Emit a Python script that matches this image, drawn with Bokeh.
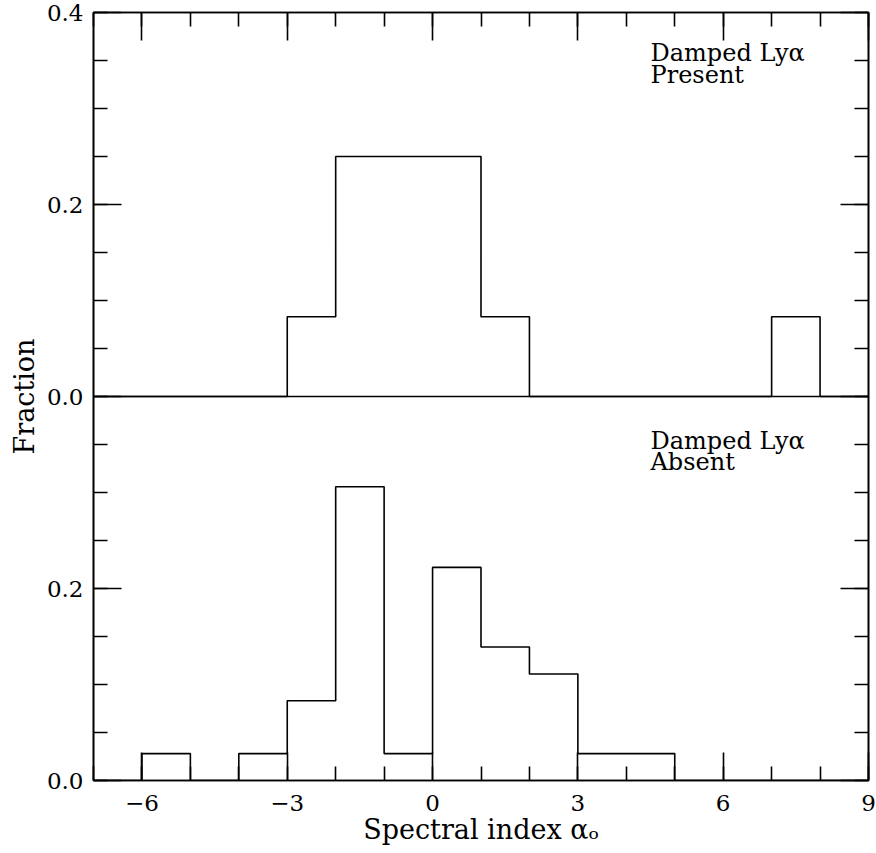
from bokeh.plotting import figure
from bokeh.models import Range1d, LinearAxis, FixedTicker, Label, Span, CustomJSTickFormatter
from bokeh.embed import file_html
from bokeh.resources import INLINE

# Histogram bins (left edges, width 1) and fractions
bin_left = list(range(-7, 9))  # -7 ... 8
bin_right_edge = 9
present = [0, 0, 0, 0, 0.083, 0.25, 0.25, 0.25, 0.083, 0, 0, 0, 0, 0, 0.083, 0]
absent = [0, 0.028, 0, 0.028, 0.083, 0.306, 0.028, 0.222, 0.139, 0.111, 0.028, 0.028, 0, 0, 0, 0]

x_major = [-6, -3, 0, 3, 6, 9]
x_minor = list(range(-7, 10))
y_major = [0, 0.2, 0.4, 0.6, 0.8]
y_labels = {0: "0.0", 0.2: "0.2", 0.4: "0.0", 0.6: "0.2", 0.8: "0.4"}
y_minor = [round(0.05 * k, 2) for k in range(0, 17)]

FONT = "DejaVu Serif"

p = figure(width=876, height=853, output_backend="svg", toolbar_location=None,
           x_range=Range1d(-7, 9), y_range=Range1d(0, 0.8),
           min_border_left=93, min_border_right=8, min_border_top=12, min_border_bottom=73,
           x_axis_label="Spectral index \u03b1\u2092", y_axis_label="Fraction")
p.extra_y_ranges = {"top": Range1d(-0.4, 0.4)}
p.xgrid.visible = False
p.ygrid.visible = False
p.outline_line_color = "black"
p.outline_line_width = 1.6
p.background_fill_color = "white"
p.border_fill_color = "white"

def style_axis(ax, show_labels):
    ax.major_tick_in = 28
    ax.major_tick_out = 0
    ax.minor_tick_in = 14
    ax.minor_tick_out = 0
    ax.axis_line_width = 1.6
    ax.major_tick_line_width = 1.6
    ax.minor_tick_line_width = 1.6
    ax.axis_line_color = "black"
    ax.major_tick_line_color = "black"
    ax.minor_tick_line_color = "black"
    ax.major_label_text_font = FONT
    ax.major_label_text_color = "black"
    ax.axis_label_text_font = FONT
    ax.axis_label_text_font_style = "normal"
    ax.axis_label_text_color = "black"
    if not show_labels:
        ax.formatter = CustomJSTickFormatter(code="return ''")
        ax.major_label_standoff = 0

xt = FixedTicker(ticks=x_major, minor_ticks=x_minor)
yt = FixedTicker(ticks=y_major, minor_ticks=y_minor)

xa = p.xaxis[0]
xa.ticker = xt
style_axis(xa, True)
xa.major_label_text_font_size = "23px"
xa.major_label_standoff = 14
xa.axis_label_text_font_size = "27px"
xa.axis_label_standoff = 0
xa.major_label_overrides = {-6: "\u22126", -3: "\u22123"}

ya = p.yaxis[0]
ya.ticker = yt
style_axis(ya, True)
ya.major_label_text_font_size = "23px"
ya.major_label_standoff = 10
ya.major_label_overrides = y_labels
ya.axis_label_text_font_size = "27px"
ya.axis_label_standoff = 4

top_ax = LinearAxis(ticker=FixedTicker(ticks=x_major, minor_ticks=x_minor))
style_axis(top_ax, False)
p.add_layout(top_ax, "above")
right_ax = LinearAxis(ticker=FixedTicker(ticks=y_major, minor_ticks=y_minor))
style_axis(right_ax, False)
p.add_layout(right_ax, "right")

# panel separator
p.add_layout(Span(location=0.4, dimension="width", line_color="black", line_width=1.6))

xs = bin_left + [bin_right_edge]
p.step(x=xs, y=present + [present[-1]], mode="after", line_color="black",
       line_width=1.6, y_range_name="top")
p.step(x=xs, y=absent + [absent[-1]], mode="after", line_color="black", line_width=1.6)

def add_text(txt, x, y, rng):
    kw = dict(x=x, y=y, text=txt, text_font=FONT, text_font_size="24px",
              text_color="black", text_baseline="top", text_align="left")
    if rng:
        kw["y_range_name"] = rng
    p.add_layout(Label(**kw))

add_text("Damped Ly\u03b1", 4.5, 0.372, "top")
add_text("Present", 4.5, 0.350, "top")
add_text("Damped Ly\u03b1", 4.5, 0.368, None)
add_text("Absent", 4.5, 0.346, None)

open("out.html", "w").write(file_html(p, INLINE))
